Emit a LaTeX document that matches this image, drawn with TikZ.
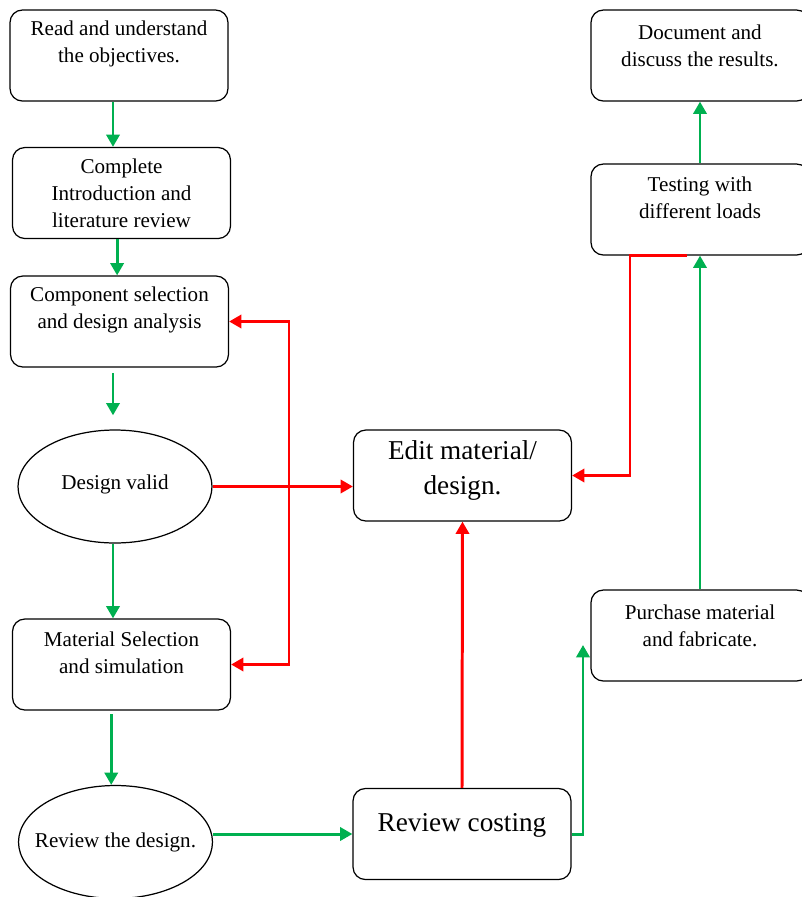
\documentclass[tikz,border=0pt]{standalone}
\usepackage{fontspec}
\setmainfont{Liberation Serif}
\usetikzlibrary{arrows.meta,shapes.geometric,calc}
\definecolor{flowgreen}{RGB}{0,176,80}
\newcommand{\toptext}[2][4pt]{\parbox[t][1.82cm][t]{4.36cm}{\centering\vspace*{#1}\strut#2}}

\begin{document}
\begin{tikzpicture}[x=0.02cm,y=-0.02cm,>={Triangle[length=7pt,width=7.5pt]},
  box/.style={draw,rounded corners=7pt,inner sep=0pt,line width=.7pt,font=\fontsize{12}{15.3}\selectfont},
  oval/.style={draw,ellipse,inner xsep=-14pt,inner ysep=0pt,line width=.7pt,minimum width=3.88cm,minimum height=2.26cm,font=\fontsize{12}{15.3}\selectfont},
  big/.style={font=\fontsize{15.5}{20}\selectfont},
  go/.style={draw=flowgreen,line width=1.7pt,->},
  back/.style={draw=red,line width=1.7pt,->}]
\useasboundingbox (0,0) rectangle (802,897);
% left column
\node[box] (read) at (119,55.5) {\toptext{Read and understand\\the objectives.}};
\node[box] (complete) at (121.5,193) {\toptext{Complete\\Introduction and\\literature review}};
\node[box] (component) at (119.5,321.5) {\toptext{Component selection\\and design analysis}};
\node[oval] (valid) at (115,486.5) {\raisebox{5pt}{Design valid}};
\node[box] (material) at (121.5,664.5) {\toptext[5pt]{Material Selection\\and simulation}};
\node[oval] (reviewd) at (115.5,842) {Review the design.};
% middle
\node[box,big] (edit) at (462.5,475.5) {\toptext[2.5pt]{Edit material/\\design.}};
\node[box,big] (costing) at (462,834) {\toptext[10.5pt]{Review costing}};
% right column
\node[box] (document) at (700,55.5) {\toptext[6pt]{Document and\\discuss the results.}};
\node[box] (testing) at (700,209.5) {\toptext[5pt]{Testing with\\different loads}};
\node[box] (purchase) at (700,635.5) {\toptext[6pt]{Purchase material\\and fabricate.}};
\coordinate (spine) at (113,0);
\coordinate (bus) at (289,500);
\coordinate (buyin) at (583,645);
% forward steps
\draw[go] (read.south -| spine) -- (complete.north -| spine);
\draw[go] ([xshift=-2.5pt]complete.south) -- ([xshift=-2.5pt]complete.south |- component.north);
\draw[go,shorten <=3pt,shorten >=8pt] (component.south -| spine) -- (valid.north -| spine);
\draw[go] (valid.south -| spine) -- (material.north -| spine);
\draw[go,shorten <=2pt] ([xshift=-1pt]material.south -| spine) -- ([xshift=-1pt]reviewd.north -| spine);
\draw[go] (costing.west -| reviewd.east) -- (costing.west);
\draw[go] (costing.east) -| (buyin);
\draw[go] (purchase.north) -- (testing.south);
\draw[go] (testing.north) -- (document.south);
% going back
\draw[back] (valid.east) -- (valid.east -| edit.west);
\draw[back] (costing.north) -- (edit.south);
\draw[back] ($(testing.south)+(-13,0)$) -- ++(-57,0) |- (edit.east);
\draw[back,<->] (component.east) -- (component.east -| bus) -- (material.east -| bus) -- (material.east);
\end{tikzpicture}
\end{document}
